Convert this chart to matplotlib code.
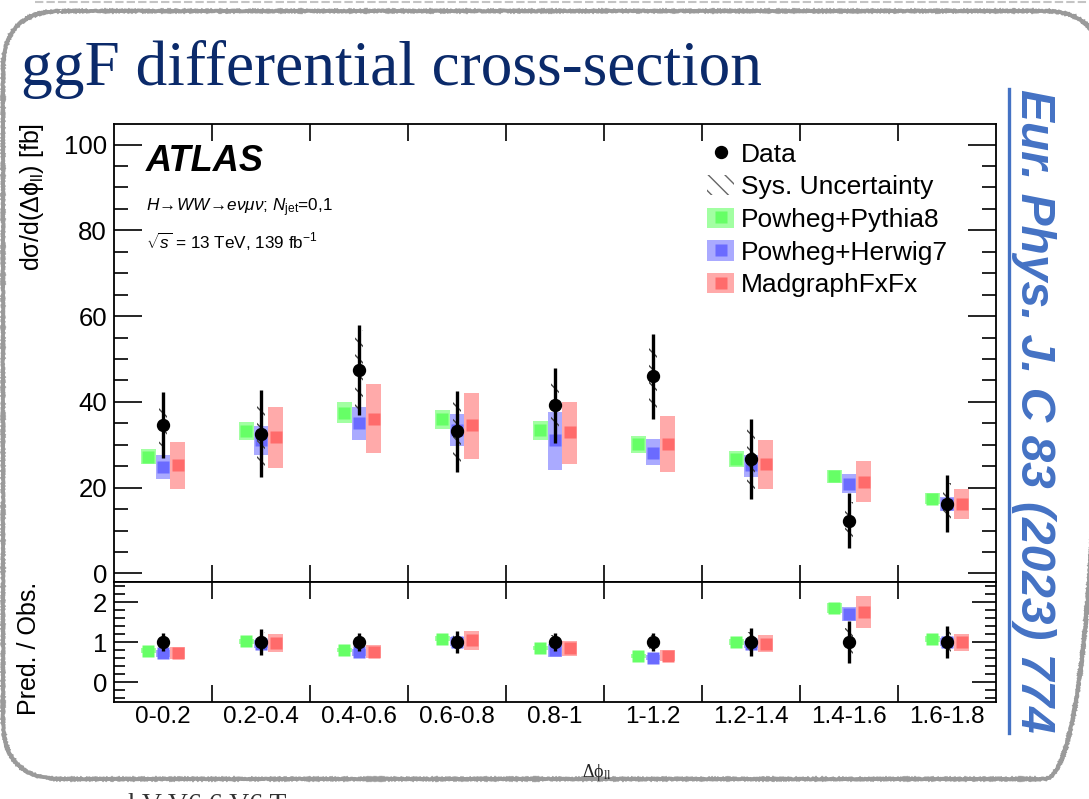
import matplotlib
matplotlib.use('Agg')
import matplotlib.pyplot as plt
import numpy as np
from matplotlib.patches import Patch, FancyBboxPatch
from matplotlib.lines import Line2D
from matplotlib.legend_handler import HandlerTuple
from matplotlib.ticker import MultipleLocator, FixedLocator, NullFormatter, FixedFormatter

plt.rcParams['font.family'] = ['Liberation Sans', 'DejaVu Sans']
plt.rcParams['mathtext.default'] = 'regular'
plt.rcParams['mathtext.fontset'] = 'custom'
plt.rcParams['mathtext.rm'] = 'Liberation Sans'
plt.rcParams['mathtext.it'] = 'Liberation Sans:italic'
plt.rcParams['mathtext.bf'] = 'Liberation Sans:bold'
plt.rcParams['hatch.linewidth'] = 1.0

# бины по delta phi_ll
bins = ['0-0.2', '0.2-0.4', '0.4-0.6', '0.6-0.8', '0.8-1', '1-1.2', '1.2-1.4', '1.4-1.6', '1.6-1.8']

# данные: центральное значение, полная ошибка, систематика (fb)
data = [34.6, 32.6, 47.5, 33.1, 39.2, 46.0, 26.7, 12.3, 16.3]
data_tot = [7.7, 10.2, 10.5, 9.4, 8.8, 9.9, 9.4, 6.4, 6.7]
data_sys = [5.1, 7.8, 9.3, 7.7, 6.5, 8.0, 7.0, 4.3, 4.7]

# предсказания: центр и границы неопределённости
pp8 = [27.1, 33.1, 37.5, 35.9, 33.5, 30.2, 26.7, 22.7, 17.4]
pp8_lo = [25.4, 31.0, 35.1, 33.6, 31.2, 28.1, 24.9, 21.2, 16.1]
pp8_hi = [29.05, 35.3, 40.0, 38.2, 35.5, 32.0, 28.5, 24.2, 18.7]

ph7 = [24.9, 31.1, 35.1, 33.5, 31.0, 28.1, 25.3, 20.9, 16.3]
ph7_lo = [22.05, 27.5, 31.2, 29.8, 24.2, 25.2, 22.6, 18.8, 14.6]
ph7_hi = [27.7, 34.3, 38.9, 37.1, 37.6, 31.4, 27.5, 23.1, 17.8]

mg = [25.2, 31.9, 36.1, 34.5, 32.9, 30.2, 25.6, 21.4, 16.3]
mg_lo = [19.6, 24.6, 28.1, 26.7, 25.6, 23.6, 19.7, 16.7, 12.6]
mg_hi = [30.6, 38.9, 44.2, 42.1, 40.0, 36.7, 31.2, 26.3, 19.7]

labels = ['Data', 'Sys. Uncertainty', 'Powheg+Pythia8', 'Powheg+Herwig7', 'MadgraphFxFx']

W, H = 1089, 799
fig = plt.figure(figsize=(W / 100, H / 100), dpi=100)


def fx(px):
    return px / W


def fy(py):
    return 1 - py / H


# фон слайда: рамка с закруглёнными углами
deco = fig.add_axes([0, 0, 1, 1])
deco.set_xlim(0, W)
deco.set_ylim(H, 0)
deco.axis('off')
frame = FancyBboxPatch((3, 11), 1099, 768, boxstyle='round,pad=0,rounding_size=58',
                       fc='none', ec='#9a9a9a', lw=2.8)
frame.set_sketch_params(scale=0.6, length=2, randomness=2)
deco.add_patch(frame)
deco.plot([35, W], [1.5, 1.5], color='#c4c4c4', lw=1.5, ls=(0, (4, 1.5)))

fig.text(fx(21), fy(85), 'ggF differential cross-section', family='Liberation Serif',
         size=45.5, color='#0b2a6a', va='baseline')

ax = fig.add_axes([fx(114), fy(582), fx(996) - fx(114), fy(124) - fy(582)])
rax = fig.add_axes([fx(114), fy(702), fx(996) - fx(114), fy(582) - fy(702)])

x = np.arange(len(bins)) + 0.5
d = np.array(data)
bw = 0.15
preds = [
    (pp8, pp8_lo, pp8_hi, -0.15, '#a2ffa2', '#66ff66'),
    (ph7, ph7_lo, ph7_hi, 0.0, '#aaaaff', '#6b6bff'),
    (mg, mg_lo, mg_hi, 0.15, '#ffaaaa', '#ff6b6b'),
]

for vals, lo, hi, off, cband, cmark in preds:
    vals, lo, hi = np.array(vals), np.array(lo), np.array(hi)
    ax.bar(x + off, hi - lo, bottom=lo, width=bw, color=cband, lw=0, zorder=2)
    ax.plot(x + off, vals, ls='none', marker='s', ms=8.8, mfc=cmark, mec='none', zorder=3)
    # отношение к данным
    rax.bar(x + off, (hi - lo) / d, bottom=lo / d, width=bw, color=cband, lw=0, zorder=2)
    rax.plot(x + off, vals / d, ls='none', marker='s', ms=8.8, mfc=cmark, mec='none', zorder=3)

tot = np.array(data_tot)
sys_ = np.array(data_sys)
ax.errorbar(x, d, yerr=tot, fmt='o', color='k', ms=8.6, elinewidth=2.4, capsize=0, zorder=6)
ax.bar(x, 2 * sys_, bottom=d - sys_, width=0.075, fill=False, hatch='\\\\',
       edgecolor='#444444', lw=0, zorder=5)
rax.errorbar(x, d / d, yerr=tot / d, fmt='o', color='k', ms=8.6, elinewidth=2.4, capsize=0, zorder=6)
rax.bar(x, 2 * sys_ / d, bottom=1 - sys_ / d, width=0.075, fill=False, hatch='\\\\',
        edgecolor='#444444', lw=0, zorder=5)

for a in (ax, rax):
    a.set_xlim(0, len(bins))
    a.xaxis.set_major_locator(FixedLocator(np.arange(1, len(bins))))
    a.xaxis.set_major_formatter(NullFormatter())
    a.xaxis.set_minor_locator(FixedLocator(x))
    a.tick_params(axis='x', which='major', direction='in', length=12, width=1.2,
                  top=True, bottom=True)
    a.tick_params(axis='x', which='minor', length=0)
    a.tick_params(axis='y', which='both', direction='in', left=True, right=True, width=1.2,
                  labelsize=18.5, pad=5)
    for s in a.spines.values():
        s.set_linewidth(1.3)

ax.xaxis.set_minor_formatter(NullFormatter())
rax.xaxis.set_minor_formatter(FixedFormatter(bins))
rax.tick_params(axis='x', which='minor', labelsize=17.5, pad=3)

ax.set_ylim(-2, 104.8)
ax.yaxis.set_major_locator(MultipleLocator(20))
ax.yaxis.set_minor_locator(MultipleLocator(5))
ax.tick_params(axis='y', which='major', length=20)
ax.tick_params(axis='y', which='minor', length=10)

rax.set_ylim(-0.5, 2.5)
rax.yaxis.set_major_locator(MultipleLocator(1))
rax.yaxis.set_minor_locator(MultipleLocator(0.2))
rax.tick_params(axis='y', which='major', length=17)
rax.tick_params(axis='y', which='minor', length=8)

# легенда
handles = [
    Line2D([], [], ls='none', marker='o', ms=8.6, color='k'),
    Patch(facecolor='none', edgecolor='#666666', hatch='\\\\', lw=0),
]
for vals, lo, hi, off, cband, cmark in preds:
    handles.append((Patch(facecolor=cband, lw=0),
                    Line2D([], [], ls='none', marker='s', ms=8.8, mfc=cmark, mec='none')))
ax.legend(handles, labels, loc='upper left', bbox_to_anchor=(0.672, 0.96), frameon=False,
          fontsize=19, handlelength=1.05, handleheight=0.8, handletextpad=0.25,
          labelspacing=0.32, borderpad=0, borderaxespad=0,
          handler_map={tuple: HandlerTuple(ndivide=1)})

fig.text(fx(146), fy(171), 'ATLAS', size=26, weight='bold', style='italic', va='baseline')
fig.text(fx(146), fy(211),
         r'$\mathit{H}\!\rightarrow\!\mathit{WW}\!\rightarrow\!\mathit{e\nu\mu\nu}$; $\mathit{N}_{jet}$=0,1',
         size=12.3, va='baseline')
fig.text(fx(146), fy(249), r'$\sqrt{\mathit{s}}$ = 13 TeV, 139 fb$^{-1}$', size=12.3, va='baseline')

fig.text(fx(32), fy(123), 'dσ/d(Δϕ$_{ll}$) [fb]', rotation=90, ha='center', va='top', size=18)
fig.text(fx(29), fy(648), 'Pred. / Obs.', rotation=90, ha='center', va='center', size=18)

fig.text(fx(582), fy(777), 'Δϕ$_{ll}$', family=['Liberation Serif', 'DejaVu Serif'], size=13,
         va='baseline', color='#222222')
# начало следующей строки слайда, обрезано краем
fig.text(fx(128), fy(793), 'kV V6 6 V6 T', family='Liberation Serif', size=20, va='top',
         color='#333333')

# ссылка на статью, вертикально
ref = fig.text(fx(1033), fy(89), 'Eur. Phys. J. C 83 (2023) 774', rotation=-90, ha='center',
               va='top', size=34.5, weight='bold', style='italic', color='#4472c4')
renderer = fig.canvas.get_renderer()
bb = ref.get_window_extent(renderer)
deco.plot([bb.x0 - 1, bb.x0 - 1], [H - bb.y1, H - bb.y0], color='#4472c4', lw=2.4)

fig.savefig('out.png', dpi=100)
